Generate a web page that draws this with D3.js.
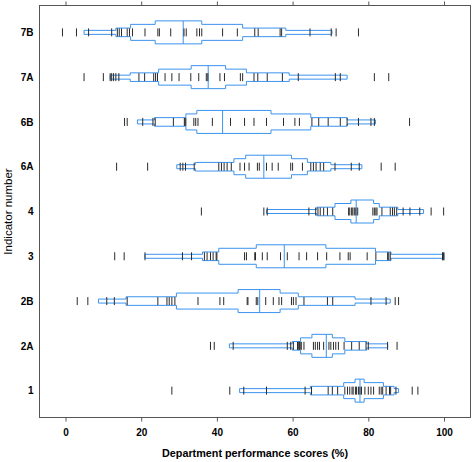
<!DOCTYPE html>
<html>
<head>
<meta charset="utf-8">
<script src="https://cdn.jsdelivr.net/npm/d3@7/dist/d3.min.js"></script>
<style>
  html, body { margin: 0; padding: 0; background: #fff; }
  svg { display: block; }
</style>
</head>
<body>
<svg id="chart" width="472" height="462"></svg>
<script>
// ---- data ----
const categories = ["7B", "7A", "6B", "6A", "4", "3", "2B", "2A", "1"];

// stepped box edges (outer thin level -> inner levels), median
const thinLo = [4.9, 11.8, 19.0, 29.4, 53.1, 21.0, 8.7, 43.3, 46.0];
const lev2Lo = [13.3, 17.1, 23.5, 34.3, 66.4, 36.2, 16.0, 59.9, 64.7];
const lev3Lo = [17.2, 24.6, 31.8, 44.5, 71.2, 40.5, 29.3, 62.1, 73.5];
const lev4Lo = [23.7, 33.2, 34.7, 47.6, 75.4, 50.4, 45.6, 65.1, 76.5];
const medians = [31.1, 37.7, 41.5, 52.4, 76.8, 57.8, 51.3, 68.9, 77.8];
const lev4Hi = [36.0, 42.3, 54.3, 59.7, 81.4, 68.8, 56.7, 70.5, 78.9];
const lev3Hi = [46.8, 47.8, 64.8, 63.9, 82.9, 81.9, 61.5, 73.8, 84.0];
const lev2Hi = [58.2, 59.1, 74.4, 70.1, 87.8, 86.0, 76.5, 79.6, 86.8];
const thinHi = [70.4, 74.4, 81.9, 78.3, 94.6, 99.9, 85.8, 85.1, 88.0];

// individual department scores (rug marks)
const scores7B = [-0.8, 2.9, 6.1, 12.2, 13.7, 14.2, 14.8, 16.3, 16.9, 17.7, 21.0, 24.4, 24.8, 27.8,
  31.3, 31.9, 34.7, 35.4, 36.0, 41.5, 45.4, 50.0, 50.9, 56.7, 57.1, 64.6, 70.2, 71.5, 77.4];
const scores7A = [4.9, 10.0, 11.8, 12.2, 12.7, 13.3, 14.1, 19.4, 20.9, 23.3, 23.8, 24.3, 26.3, 28.1,
  30.0, 33.1, 35.2, 37.2, 37.6, 40.8, 42.0, 46.2, 46.8, 49.8, 50.8, 53.3, 57.3, 61.5, 71.3, 72.6, 81.6, 85.4];
const scores6B = [15.6, 16.3, 20.4, 23.1, 23.7, 28.5, 31.4, 31.6, 31.8, 33.9, 34.4, 35.0, 38.8, 43.6,
  47.3, 49.8, 53.1, 57.6, 60.6, 61.8, 65.1, 66.9, 69.4, 72.6, 74.4, 77.4, 80.7, 81.6, 90.9];
const scores6A = [13.5, 21.7, 30.3, 31.0, 31.7, 34.0, 40.5, 41.2, 41.9, 42.7, 43.8, 46.1, 47.3, 48.5,
  50.7, 51.2, 53.1, 54.6, 56.2, 59.5, 60.0, 62.6, 64.8, 65.5, 66.2, 67.3, 68.2, 71.2, 75.5, 77.6, 83.4, 87.1];
const scores4 = [35.9, 52.4, 53.3, 64.3, 66.1, 66.7, 67.3, 68.2, 69.2, 70.6, 74.8, 75.1, 75.6, 75.9,
  76.3, 76.7, 77.2, 81.2, 81.6, 82.0, 82.3, 83.6, 85.8, 86.4, 86.9, 87.5, 89.2, 91.0, 93.6, 96.6, 99.9];
const scores3 = [13.0, 15.5, 21.0, 30.9, 33.3, 36.7, 37.4, 38.3, 39.0, 39.8, 40.0, 47.3, 47.8, 50.0,
  50.2, 52.0, 53.3, 56.8, 58.6, 61.7, 63.7, 66.6, 69.0, 72.5, 74.7, 75.2, 79.7, 82.0, 85.1, 85.4, 85.8,
  99.6, 99.8, 100.0];
const scores2B = [3.1, 5.9, 10.9, 12.9, 16.3, 24.4, 26.8, 27.4, 28.1, 28.9, 35.0, 40.8, 41.8, 48.0,
  48.2, 50.4, 50.8, 52.9, 54.9, 56.4, 57.1, 59.7, 60.2, 60.9, 63.0, 69.2, 70.6, 80.7, 84.7, 87.1, 88.0];
const scores2A = [38.3, 39.3, 44.3, 58.6, 59.5, 60.2, 61.3, 61.5, 61.8, 62.0, 62.3, 63.0, 65.5, 66.0,
  66.6, 67.1, 68.2, 69.6, 70.1, 70.8, 71.4, 72.1, 73.6, 75.6, 77.6, 79.4, 80.0, 85.1, 87.6];
const scores1 = [28.1, 43.4, 47.1, 53.1, 63.3, 65.0, 69.4, 70.5, 71.9, 73.8, 74.5, 75.1, 75.7, 76.0,
  76.6, 76.9, 77.4, 77.8, 78.2, 79.1, 80.0, 80.7, 81.4, 82.9, 83.4, 83.8, 84.7, 85.6, 85.9, 87.3, 91.6, 93.1];
const scoreLists = [scores7B, scores7A, scores6B, scores6A, scores4, scores3, scores2B, scores2A, scores1];

const xTicks = [0, 20, 40, 60, 80, 100];
const xTitle = "Department performance scores (%)";
const yTitle = "Indicator number";

// ---- drawing ----
const svg = d3.select("#chart");
const L = 39.5, R = 470.5, T = 5.5, B = 417.5;

const x = d3.scaleLinear().domain([-6.87, 107.0]).range([L, R]);
const y = d3.scalePoint().domain(categories).range([T, B]).padding(0.6);

const blue = "#3a93ee";
const h1 = 2, h2 = 4.3, h3 = 8, h4 = 11.5;

const rows = categories.map((c, i) => ({
  cat: c,
  t0: thinLo[i], l2: lev2Lo[i], l3: lev3Lo[i], l4: lev4Lo[i], med: medians[i],
  r4: lev4Hi[i], r3: lev3Hi[i], r2: lev2Hi[i], t1: thinHi[i], scores: scoreLists[i]
}));

function stepPath(d) {
  const c = y(d.cat);
  const top = [
    [d.t0, -h1], [d.l2, -h1], [d.l2, -h2], [d.l3, -h2], [d.l3, -h3], [d.l4, -h3], [d.l4, -h4],
    [d.r4, -h4], [d.r4, -h3], [d.r3, -h3], [d.r3, -h2], [d.r2, -h2], [d.r2, -h1], [d.t1, -h1]
  ];
  const bottom = top.slice().reverse().map(p => [p[0], -p[1]]);
  const pts = top.concat(bottom).map(p => [x(p[0]), c + p[1]]);
  return d3.line()(pts) + "Z";
}

const g = svg.append("g");

// boxes
g.selectAll("path.box").data(rows).join("path")
  .attr("class", "box")
  .attr("d", stepPath)
  .attr("fill", "none")
  .attr("stroke", blue)
  .attr("stroke-width", 1)
  .attr("stroke-linejoin", "miter");

// medians
g.selectAll("line.med").data(rows).join("line")
  .attr("class", "med")
  .attr("x1", d => x(d.med)).attr("x2", d => x(d.med))
  .attr("y1", d => y(d.cat) - h4).attr("y2", d => y(d.cat) + h4)
  .attr("stroke", blue).attr("stroke-width", 1);

// rug marks
const rug = rows.flatMap(d => d.scores.map(v => ({ cat: d.cat, v })));
g.selectAll("line.rug").data(rug).join("line")
  .attr("class", "rug")
  .attr("x1", d => x(d.v)).attr("x2", d => x(d.v))
  .attr("y1", d => y(d.cat) - 4).attr("y2", d => y(d.cat) + 4)
  .attr("stroke", "#2a2a2a").attr("stroke-width", 1);

// frame
svg.append("rect")
  .attr("x", L).attr("y", T).attr("width", R - L).attr("height", B - T)
  .attr("fill", "none").attr("stroke", "#555").attr("stroke-width", 1);

// bottom axis
const xAxisB = svg.append("g").attr("transform", `translate(0,${B})`)
  .call(d3.axisBottom(x).tickValues(xTicks).tickSize(4).tickPadding(7).tickFormat(d3.format("d")));
xAxisB.select(".domain").remove();
xAxisB.selectAll(".tick line").attr("stroke", "#555");
xAxisB.selectAll(".tick text")
  .attr("font-family", "'Liberation Sans', Arial, sans-serif")
  .attr("font-weight", "bold").attr("font-size", "10px").attr("fill", "#000");

// top axis (ticks only)
const xAxisT = svg.append("g").attr("transform", `translate(0,${T})`)
  .call(d3.axisTop(x).tickValues(xTicks).tickSize(4).tickFormat(""));
xAxisT.select(".domain").remove();
xAxisT.selectAll(".tick line").attr("stroke", "#555");

// left axis labels (no tick marks)
const yAxis = svg.append("g").attr("transform", `translate(${L},0)`)
  .call(d3.axisLeft(y).tickSize(0).tickPadding(6));
yAxis.select(".domain").remove();
yAxis.selectAll(".tick text")
  .attr("font-family", "'Liberation Sans', Arial, sans-serif")
  .attr("font-weight", "bold").attr("font-size", "10px").attr("fill", "#000");

// titles
svg.append("text")
  .attr("x", (L + R) / 2).attr("y", 457)
  .attr("text-anchor", "middle")
  .attr("font-family", "'Liberation Sans', Arial, sans-serif")
  .attr("font-weight", "bold")
  .attr("font-size", "10.8px").attr("fill", "#000")
  .text(xTitle);

svg.append("text")
  .attr("transform", `translate(11.5,${(T + B) / 2}) rotate(-90)`)
  .attr("text-anchor", "middle")
  .attr("font-family", "'Liberation Sans', Arial, sans-serif")
  .attr("font-size", "11.5px").attr("fill", "#000")
  .text(yTitle);
</script>
</body>
</html>
